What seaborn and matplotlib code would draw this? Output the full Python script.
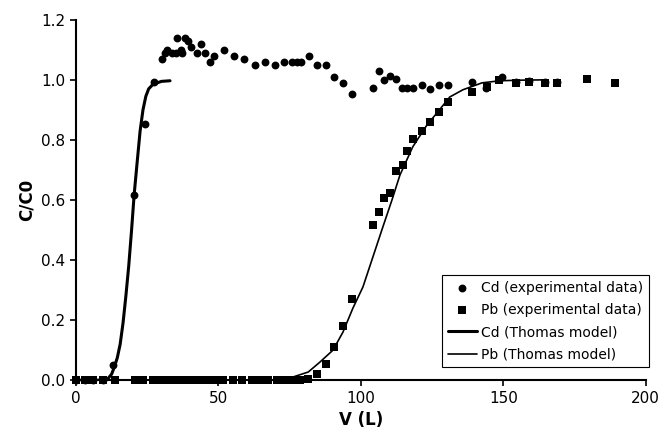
import seaborn as sns
import pandas as pd
import matplotlib
matplotlib.use('Agg')
import matplotlib.pyplot as plt

cd_v = [0, 3.2, 6.1, 9.6, 13.0, 20.4, 24.2, 27.4,
        30.2, 31.2, 32.0, 33.6, 35.1, 35.3, 36.8, 37.2, 38.2, 39.3, 40.5,
        42.3, 43.8, 45.2, 47.0, 48.3, 52.0, 55.4, 59.0, 62.8, 66.3, 69.8,
        73.0, 75.8, 77.5, 79.0, 81.8, 84.5, 87.7, 90.5, 93.7, 96.8,
        104.2, 106.3, 108.0, 110.2, 112.3, 114.4, 116.1, 118.2, 121.4,
        124.2, 127.4, 130.5, 139.0, 143.9, 149.5, 154.4, 159.0, 164.6, 169.0]
cd_c = [0, 0, 0, 0, 0.05, 0.617, 0.853, 0.993,
        1.07, 1.09, 1.10, 1.09, 1.09, 1.14, 1.10, 1.09, 1.14, 1.13, 1.11,
        1.09, 1.12, 1.09, 1.06, 1.08, 1.10, 1.08, 1.07, 1.05, 1.06, 1.05,
        1.06, 1.06, 1.06, 1.06, 1.08, 1.05, 1.05, 1.01, 0.99, 0.953,
        0.973, 1.03, 1.00, 1.013, 1.003, 0.973, 0.973, 0.973, 0.983,
        0.97, 0.983, 0.983, 0.993, 0.973, 1.01, 0.993, 0.997, 0.993, 0.993]

pb_v = [0, 3.2, 6.1, 9.6, 13.7, 20.7, 23.6,
        27, 28, 29, 30, 31, 32, 33, 34, 35, 36, 37, 38, 39, 40, 41, 42, 43,
        44, 45, 46, 47, 48, 49,
        51.7, 55.2, 58.1, 61.6, 64.6, 67.5, 70.4, 73.3, 76.3, 78.6, 81.5,
        84.6, 87.7, 90.5, 93.7, 96.8, 104.2, 106.3, 108.0, 110.2, 112.3,
        114.7, 116.1, 118.2, 121.4, 124.2, 127.4, 130.5, 139.0, 144.2,
        148.4, 154.4, 159.0, 164.6, 169.0, 179.3, 189.1]
pb_c = [0, 0, 0, 0, 0, 0, 0,
        0, 0, 0, 0, 0, 0, 0, 0, 0, 0, 0, 0, 0, 0, 0, 0, 0,
        0, 0, 0, 0, 0, 0,
        0, 0, 0, 0, 0, 0, 0, 0, 0, 0, 0.003,
        0.02, 0.053, 0.11, 0.18, 0.27, 0.517, 0.56, 0.607, 0.623, 0.697,
        0.717, 0.763, 0.803, 0.83, 0.86, 0.893, 0.927, 0.96, 0.977,
        1.0, 0.99, 0.993, 0.99, 0.99, 1.003, 0.99]

# Thomas model curves
cd_model_v = [0, 10.0, 11.2, 12.5, 13.5, 14.5, 15.5, 16.5, 17.5, 18.5,
              19.5, 20.4, 21.5, 22.5, 23.5, 24.5, 25.5, 27.0, 30.0, 33.0]
cd_model_c = [0, 0.0, 0.005, 0.02, 0.045, 0.075, 0.12, 0.19, 0.28, 0.38,
              0.50, 0.617, 0.73, 0.83, 0.90, 0.945, 0.97, 0.985, 0.995, 0.997]

pb_model_v = [0, 71.0, 76.0, 81.5, 85.6, 90.2, 93.7, 97.2, 100.7, 104.2,
              107.7, 110.9, 113.7, 118.2, 123.2, 126.7, 131.2, 135.8, 142.5,
              148.8, 156.0, 164.0]
pb_model_c = [0, 0.0, 0.01, 0.027, 0.06, 0.10, 0.16, 0.24, 0.31, 0.41,
              0.51, 0.60, 0.683, 0.777, 0.85, 0.89, 0.943, 0.967, 0.99,
              0.997, 0.999, 1.0]

sns.set_style('ticks')
plt.rcParams['font.family'] = ['DejaVu Sans']

fig, ax = plt.subplots(figsize=(6.61, 4.40), dpi=100)
fig.subplots_adjust(left=0.115, right=0.977, bottom=0.136, top=0.955)

cd = pd.DataFrame({'V': cd_v, 'C': cd_c})
pb = pd.DataFrame({'V': pb_v, 'C': pb_c})
cdm = pd.DataFrame({'V': cd_model_v, 'C': cd_model_c})
pbm = pd.DataFrame({'V': pb_model_v, 'C': pb_model_c})

sns.scatterplot(data=cd, x='V', y='C', marker='o', s=32, color='black',
                edgecolor='black', linewidth=0, label='Cd (experimental data)',
                clip_on=False, zorder=3, ax=ax)
sns.scatterplot(data=pb, x='V', y='C', marker='s', s=30, color='black',
                edgecolor='black', linewidth=0, label='Pb (experimental data)',
                clip_on=False, zorder=3, ax=ax)
sns.lineplot(data=cdm, x='V', y='C', color='black', linewidth=2.2,
             estimator=None, label='Cd (Thomas model)', ax=ax)
sns.lineplot(data=pbm, x='V', y='C', color='black', linewidth=1.2,
             estimator=None, label='Pb (Thomas model)', ax=ax)

ax.set_xlim(0, 200)
ax.set_ylim(0, 1.2)
ax.set_xticks([0, 50, 100, 150, 200])
ax.set_yticks([0, 0.2, 0.4, 0.6, 0.8, 1.0, 1.2])
ax.set_yticklabels(['0.0', '0.2', '0.4', '0.6', '0.8', '1.0', '1.2'])
ax.tick_params(labelsize=11, length=4, width=1.2, colors='black')
ax.set_xlabel('V (L)', fontsize=12, fontweight='bold', color='black')
ax.set_ylabel('C/C0', fontsize=12, fontweight='bold', color='black')
for side in ['left', 'bottom']:
    ax.spines[side].set_linewidth(1.5)
    ax.spines[side].set_color('black')
sns.despine(ax=ax)

leg = ax.legend(loc='lower right', bbox_to_anchor=(1.005, 0.036),
                borderaxespad=0, fontsize=10, frameon=True, fancybox=False,
                edgecolor='black', framealpha=1, labelspacing=0.6,
                handlelength=2.1, handletextpad=0.3)
leg.get_frame().set_linewidth(0.8)
for t in leg.get_texts():
    t.set_color('black')

fig.savefig('out.png', dpi=100)
